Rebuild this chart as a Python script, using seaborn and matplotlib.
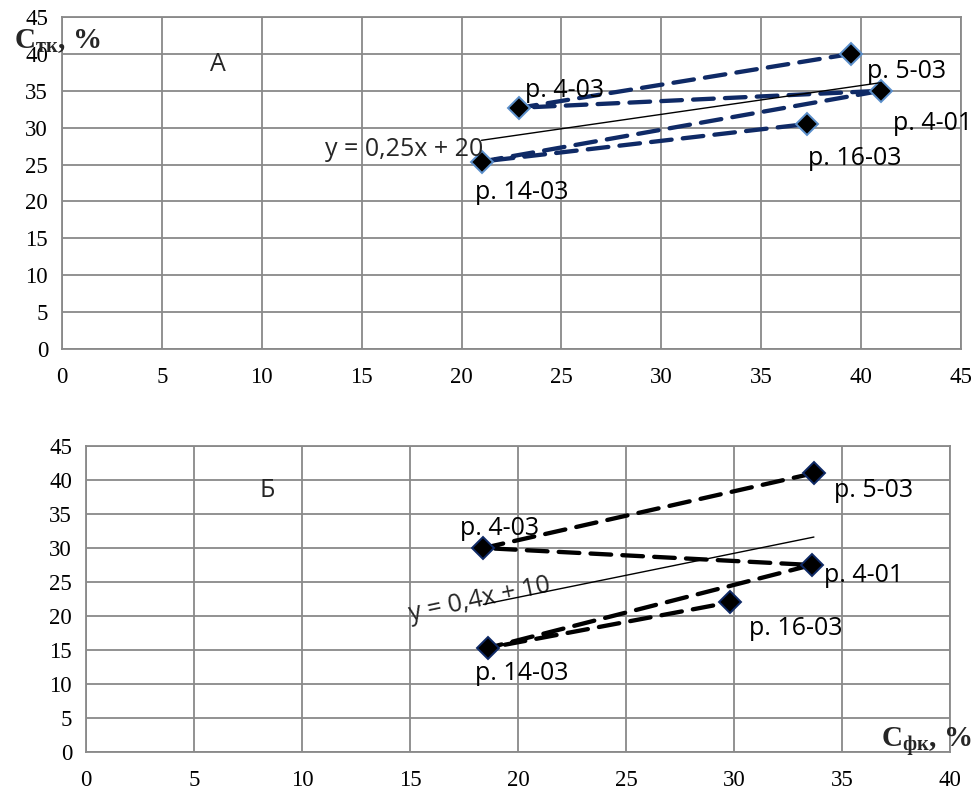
import matplotlib
matplotlib.use("Agg")
import matplotlib.pyplot as plt
import seaborn as sns
import numpy as np
import pandas as pd

# ---------------- data ----------------
names = ["р. 5-03", "р. 4-03", "р. 4-01", "р. 14-03", "р. 16-03"]
# panel A
xa = [39.5, 22.9, 41.0, 21.0, 37.3]
ya = [40.0, 32.7, 35.0, 25.4, 30.5]
# panel Б
xb = [33.7, 18.4, 33.6, 18.6, 29.8]
yb = [41.0, 30.0, 27.5, 15.3, 22.0]

eq_a = "y = 0,25x + 20"
eq_b = "y = 0,4x + 10"
ticks_a = list(range(0, 50, 5))
ticks_b_x = list(range(0, 45, 5))
ticks_b_y = list(range(0, 50, 5))

# label offsets (points) – style
offs_a = [(11.5, -13), (4.3, 12.2), (8.6, -23.8), (-5, -22.3), (0.7, -25.2)]
offs_b = [(14.4, -12.2), (-16.6, 13.7), (9, -7.9), (-9.4, -18.7), (13.7, -18.7)]

sns.set_theme(style="white")
plt.rcParams["font.family"] = ["Liberation Serif", "DejaVu Serif"]
plt.rcParams["mathtext.fontset"] = "custom"
plt.rcParams["mathtext.rm"] = "Liberation Serif"
plt.rcParams["mathtext.bf"] = "Liberation Serif:bold"

LBL = ["Open Sans", "DejaVu Sans"]
GRID = "#898989"

fig = plt.figure(figsize=(9.76, 7.96), dpi=100)
axA = fig.add_axes([62/976, 1-349/796, 899/976, 332/796])
axB = fig.add_axes([86/976, 1-752/796, 864/976, 306/796])


def panel(ax, x, y, offs, line_color, edge_color, xticks, yticks):
    df = pd.DataFrame({"x": x, "y": y, "name": names})
    sns.lineplot(data=df, x="x", y="y", sort=False, estimator=None, ax=ax,
                 color=line_color, lw=3.1, linestyle=(0, (4.8, 2.6)),
                 dash_capstyle="round",
                 marker="D", markersize=11.5, markerfacecolor="black",
                 markeredgecolor=edge_color, markeredgewidth=1.4, zorder=3)
    sns.regplot(data=df, x="x", y="y", scatter=False, ci=None, ax=ax,
                line_kws=dict(color="black", lw=1.0, zorder=4))
    for (xi, yi, n, o) in zip(x, y, names, offs):
        ax.annotate(n, (xi, yi), xytext=o, textcoords="offset points",
                    ha="left", va="center", fontsize=18, family=LBL,
                    color="black", zorder=5)
    ax.set_xlim(xticks[0], xticks[-1])
    ax.set_ylim(yticks[0], yticks[-1])
    ax.set_xticks(xticks)
    ax.set_yticks(yticks)
    ax.grid(True, color=GRID, lw=1.3)
    ax.set_axisbelow(True)
    for s in ax.spines.values():
        s.set_color(GRID)
        s.set_linewidth(1.3)
    ax.tick_params(axis="both", direction="out", length=5, width=1.3,
                   color=GRID, labelsize=16.5, labelcolor="black", pad=5)
    ax.tick_params(axis="x", pad=8)
    ax.set_xlabel("")
    ax.set_ylabel("")
    ax.set_facecolor("white")


panel(axA, xa, ya, offs_a, "#0F2A66", "#5B8FCB", ticks_a, ticks_a)
panel(axB, xb, yb, offs_b, "black", "#0F2A66", ticks_b_x, ticks_b_y)

axA.text(21.07, 27.0, eq_a, ha="right", va="center", fontsize=18, family=LBL)
axB.text(18.24, 22.35, eq_b, ha="center", va="center", fontsize=18,
         family=LBL, rotation=12, rotation_mode="anchor")
axA.text(7.8, 38.6, "А", ha="center", va="center", fontsize=18, family=LBL)
axB.text(8.4, 38.5, "Б", ha="center", va="center", fontsize=18, family=LBL)

fig.text(14/976, 1-48/796, r"$\mathbf{С_{тк}}$, %", fontsize=21,
         fontweight="bold", ha="left", va="baseline")
fig.text(881/976, 1-747/796, r"$\mathbf{С_{фк}}$, %", fontsize=21,
         fontweight="bold", ha="left", va="baseline")

fig.savefig("out.png", dpi=100, facecolor="white")
